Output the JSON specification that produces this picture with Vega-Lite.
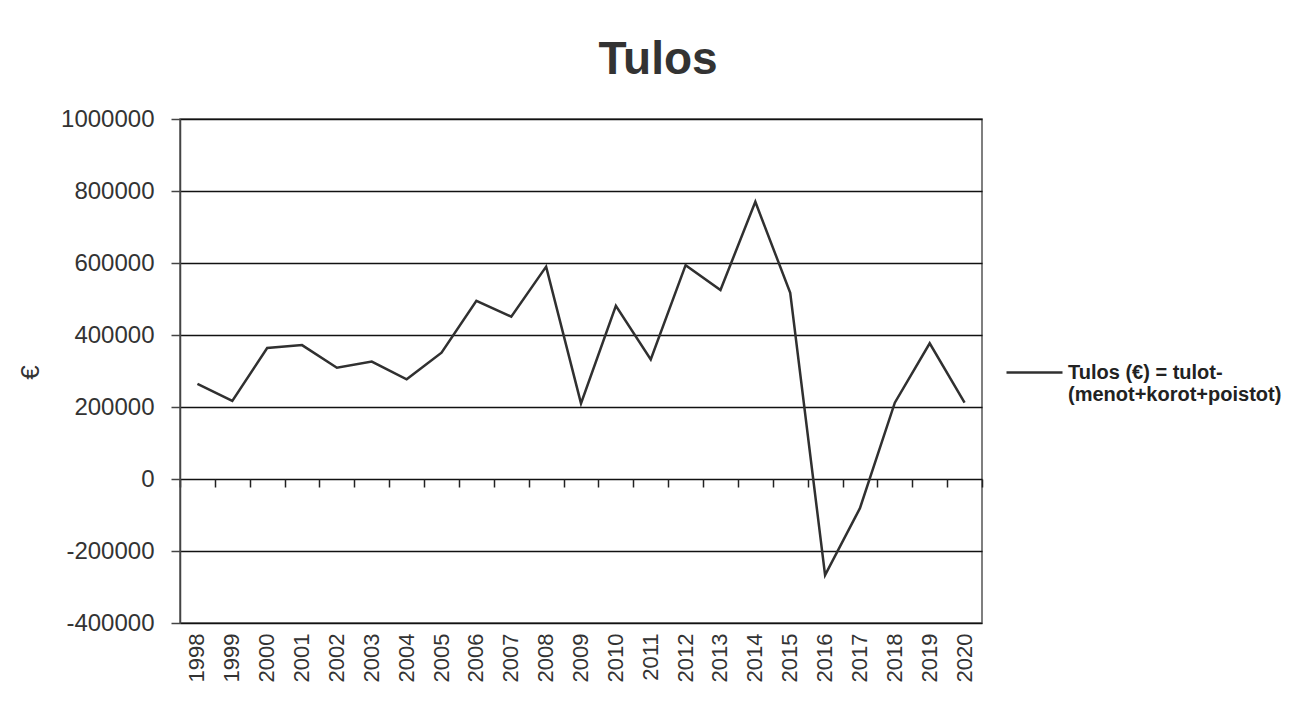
{
  "$schema": "https://vega.github.io/schema/vega-lite/v6.json",
  "width": 802,
  "height": 504,
  "autosize": "none",
  "padding": {"left": 180, "top": 119, "right": 334, "bottom": 93},
  "background": "white",
  "title": {"text": "Tulos", "fontSize": 46, "font": "Liberation Sans", "fontWeight": "bold", "color": "#333", "anchor": "middle", "frame": "group", "dx": 77, "offset": 23},
  "data": {"values": [
    {"year": "1998", "value": 264000},
    {"year": "1999", "value": 217000},
    {"year": "2000", "value": 364000},
    {"year": "2001", "value": 372000},
    {"year": "2002", "value": 309000},
    {"year": "2003", "value": 326000},
    {"year": "2004", "value": 277000},
    {"year": "2005", "value": 351000},
    {"year": "2006", "value": 495000},
    {"year": "2007", "value": 451000},
    {"year": "2008", "value": 590000},
    {"year": "2009", "value": 210000},
    {"year": "2010", "value": 481000},
    {"year": "2011", "value": 332000},
    {"year": "2012", "value": 594000},
    {"year": "2013", "value": 525000},
    {"year": "2014", "value": 770000},
    {"year": "2015", "value": 517000},
    {"year": "2016", "value": -267000},
    {"year": "2017", "value": -81000},
    {"year": "2018", "value": 212000},
    {"year": "2019", "value": 377000},
    {"year": "2020", "value": 212000}
  ]},
  "layer": [
    {
      "mark": {"type": "point", "opacity": 0},
      "encoding": {
        "x": {"field": "year", "type": "ordinal", "scale": {"type": "band", "paddingInner": 0, "paddingOuter": 0},
          "axis": {"orient": "bottom", "offset": -144, "labels": false, "domain": false, "ticks": true, "tickBand": "extent", "tickSize": 8, "tickWidth": 1.5, "tickColor": "#222", "title": null, "grid": false}},
        "y": {"field": "value", "type": "quantitative"}
      }
    },
    {
      "mark": {"type": "line", "strokeWidth": 2.5},
      "encoding": {
        "x": {"field": "year", "type": "ordinal", "bandPosition": 0.5, "scale": {"type": "band", "paddingInner": 0, "paddingOuter": 0},
          "axis": {"orient": "bottom", "ticks": false, "domain": false, "labelAngle": -90, "labelFontSize": 22, "labelFont": "Liberation Sans", "labelColor": "#333", "labelPadding": 10, "title": null, "grid": false}},
        "y": {"field": "value", "type": "quantitative", "scale": {"domain": [-400000, 1000000], "nice": false, "zero": false},
          "axis": {"values": [-400000, -200000, 0, 200000, 400000, 600000, 800000, 1000000], "labelExpr": "'' + datum.value", "grid": true, "gridColor": "#111", "gridWidth": 1.5, "domainColor": "#444", "domainWidth": 1.5, "tickColor": "#444", "tickSize": 9, "tickWidth": 1.5, "labelFontSize": 24, "labelFont": "Liberation Sans", "labelPadding": 17, "labelColor": "#333", "title": "€", "titleFont": "Liberation Sans", "titleFontSize": 26, "titleFontWeight": "normal", "titleColor": "#333", "titleX": -137, "titleY": 253}},
        "color": {"datum": "Tulos (€) = tulot-(menot+korot+poistot)", "type": "nominal", "scale": {"range": ["#303030"]},
          "legend": {"orient": "none", "legendX": 825, "legendY": 224, "title": null, "symbolType": "stroke", "symbolSize": 3136, "symbolStrokeWidth": 2.5, "symbolStrokeColor": "#333", "labelExpr": "['Tulos (€) = tulot-', '(menot+korot+poistot)']", "labelFontSize": 20, "labelFontWeight": "bold", "labelFont": "Liberation Sans", "labelColor": "#222", "labelLimit": 0, "labelOffset": 4, "labelBaseline": "middle", "labelLineHeight": 21}}
      }
    }
  ],
  "resolve": {"axis": {"x": "independent"}},
  "config": {"font": "Liberation Sans", "view": {"stroke": "#555", "strokeWidth": 1.5}}
}
